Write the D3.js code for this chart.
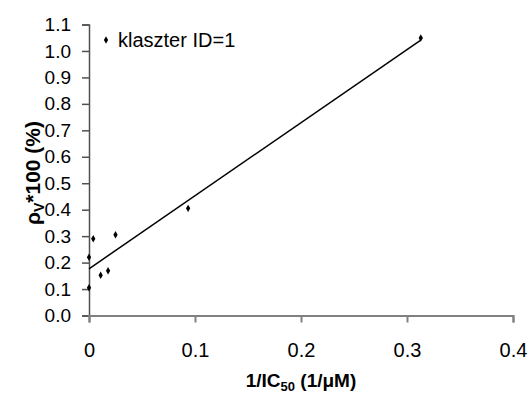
<!DOCTYPE html>
<html>
<head>
<meta charset="utf-8">
<script src="https://cdn.jsdelivr.net/npm/d3@7"></script>
<style>
  body { margin: 0; background: #fff; }
  text { font-family: "Liberation Sans", Arial, sans-serif; }
</style>
</head>
<body>
<svg id="svg"></svg>
<script>
// dane punktow
const xVals = [0, 0, 0.004, 0.011, 0.018, 0.025, 0.0935, 0.313];
const yVals = [0.105, 0.22, 0.29, 0.152, 0.169, 0.305, 0.405, 1.049];
const xTicks = [0, 0.1, 0.2, 0.3, 0.4];
const yTicks = [0, 0.1, 0.2, 0.3, 0.4, 0.5, 0.6, 0.7, 0.8, 0.9, 1.0, 1.1];
const seriesName = "klaszter ID=1";

const W = 529, H = 394;
const svg = d3.select("#svg").attr("width", W).attr("height", H);

const x = d3.scaleLinear().domain([0, 0.4]).range([89, 513]);
const y = d3.scaleLinear().domain([0, 1.1]).range([315.5, 24.5]);

// linia trendu (regresja liniowa)
const mx = d3.mean(xVals), my = d3.mean(yVals);
let sxy = 0, sxx = 0;
xVals.forEach((v, i) => { sxy += (v - mx) * (yVals[i] - my); sxx += (v - mx) * (v - mx); });
const slope = sxy / sxx, icpt = my - slope * mx;
const xr = d3.extent(xVals);

// os Y
const gy = svg.append("g")
    .attr("transform", `translate(${x(0)},0)`)
    .call(d3.axisLeft(y).tickValues(yTicks).tickFormat(d3.format(".1f")).tickSize(7).tickPadding(11));
gy.select(".domain").attr("stroke", "#505050").attr("stroke-width", 1.5);
gy.selectAll(".tick line").attr("stroke", "#505050").attr("stroke-width", 1.5);
gy.selectAll(".tick text").style("font-size", "19px").attr("fill", "#000");

// os X
const gx = svg.append("g")
    .attr("transform", `translate(0,${y(0)})`)
    .call(d3.axisBottom(x).tickValues(xTicks).tickFormat(d => d === 0 ? "0" : d3.format(".1f")(d)).tickSize(7).tickPadding(20));
gx.select(".domain").attr("stroke", "#808080").attr("stroke-width", 2);
gx.selectAll(".tick line").attr("stroke", "#808080").attr("stroke-width", 2);
gx.selectAll(".tick text").style("font-size", "20px").attr("fill", "#000");

svg.append("line")
    .attr("x1", x(xr[0])).attr("y1", y(icpt + slope * xr[0]))
    .attr("x2", x(xr[1])).attr("y2", y(icpt + slope * xr[1]))
    .attr("stroke", "#000").attr("stroke-width", 1.5);

const diamond = d3.symbol().type(d3.symbolDiamond).size(16);
svg.append("g").selectAll("path")
    .data(xVals.map((v, i) => [v, yVals[i]]))
    .join("path")
    .attr("d", diamond)
    .attr("transform", d => `translate(${x(d[0])},${y(d[1])})`)
    .attr("fill", "#000");

// legenda
svg.append("path").attr("d", diamond).attr("transform", "translate(106,40)").attr("fill", "#000");
svg.append("text").attr("x", 118).attr("y", 47).style("font-size", "20px").text(seriesName);

// tytuly osi
const xt = svg.append("text")
    .attr("x", 301).attr("y", 387)
    .attr("text-anchor", "middle")
    .style("font-size", "19px").style("font-weight", "bold");
xt.append("tspan").text("1/IC");
xt.append("tspan").attr("dy", 4).style("font-size", "13px").text("50");
xt.append("tspan").attr("dy", -4).text(" (1/μM)");

const yt = svg.append("text")
    .attr("transform", "translate(40,173) rotate(-90)")
    .attr("text-anchor", "middle")
    .style("font-size", "21px").style("font-weight", "bold");
yt.append("tspan").text("ρ");
yt.append("tspan").attr("dy", 4).style("font-size", "14px").text("V");
yt.append("tspan").attr("dy", -4).text("*100 (%)");
</script>
</body>
</html>
